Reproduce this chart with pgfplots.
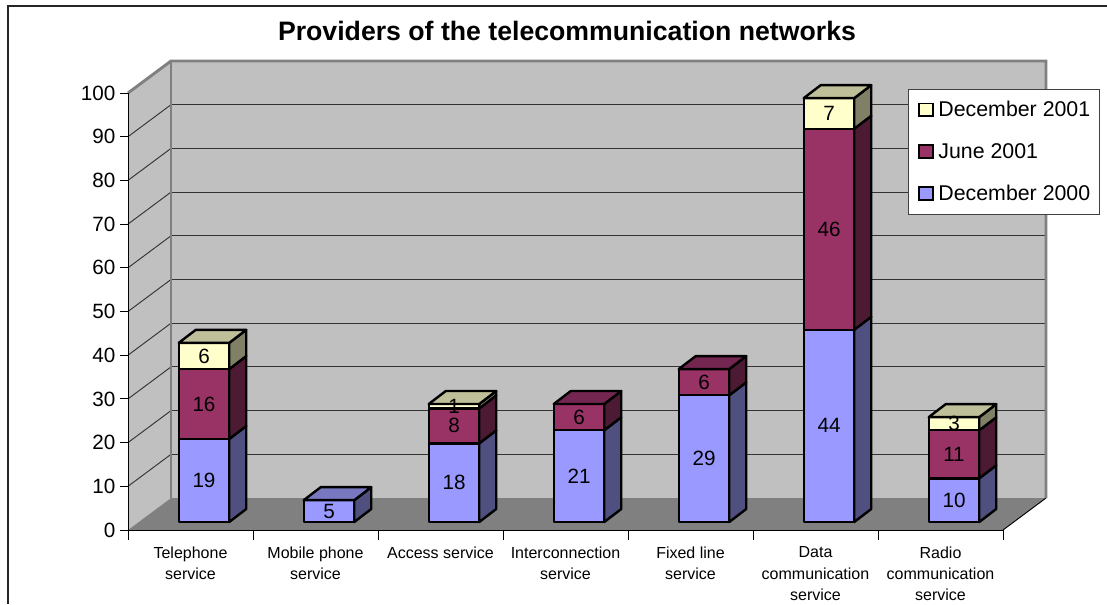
\documentclass[border=0pt]{standalone}
\usepackage{fontspec}
\setmainfont{Liberation Sans}
\usepackage{pgfplots}
\pgfplotsset{compat=1.18}

\definecolor{wallc}{HTML}{C0C0C0}
\definecolor{floorc}{HTML}{808080}
\definecolor{bluef}{HTML}{9999FF}
\definecolor{blues}{HTML}{4F4F80}
\definecolor{bluet}{HTML}{7878C0}
\definecolor{purpf}{HTML}{993366}
\definecolor{purps}{HTML}{4D1A33}
\definecolor{purpt}{HTML}{732650}
\definecolor{yellf}{HTML}{FFFFCC}
\definecolor{yells}{HTML}{808066}
\definecolor{yellt}{HTML}{BFBF99}

% one filled polygon through the axis
\newcommand{\face}[2]{%
  \edef\tmp{\noexpand\addplot[forget plot,no markers,sharp plot,draw=black,line width=1.8pt,line join=round,fill=#1] coordinates {#2} -- cycle;}\tmp}
% one straight line through the axis
\newcommand{\wline}[3]{%
  \edef\tmp{\noexpand\addplot[forget plot,no markers,sharp plot,#1,line width=#2] coordinates {#3};}\tmp}
% legend key, a small square
\newcommand{\lkey}[1]{%
  \addlegendimage{legend image code/.code={\path (-3pt,0pt) (12pt,0pt); \draw[draw=black,line width=1.4pt,fill=#1] (0pt,-4.5pt) rectangle (10pt,5pt);}}}

% bar geometry in axis units: 125 px per category, 4.37 px per unit of y
\newcommand{\seg}[5]{% category, bottom, value, front colour, side colour
  \pgfmathsetmacro\xa{#1+0.406}\pgfmathsetmacro\xb{#1+0.81}\pgfmathsetmacro\xc{#1+0.946}%
  \pgfmathsetmacro\ya{1.83+#2}\pgfmathsetmacro\yb{\ya+#3}%
  \pgfmathsetmacro\yc{\ya+2.97}\pgfmathsetmacro\yd{\yb+2.97}%
  \face{#4}{(\xa,\ya)(\xb,\ya)(\xb,\yb)(\xa,\yb)}%
  \face{#5}{(\xb,\ya)(\xc,\yc)(\xc,\yd)(\xb,\yb)}}
\newcommand{\lid}[3]{% category, top of stack, colour
  \pgfmathsetmacro\xa{#1+0.406}\pgfmathsetmacro\xb{#1+0.81}\pgfmathsetmacro\xc{#1+0.946}\pgfmathsetmacro\xd{#1+0.542}%
  \pgfmathsetmacro\yb{1.83+#2}\pgfmathsetmacro\yd{\yb+2.97}%
  \face{#3}{(\xa,\yb)(\xb,\yb)(\xc,\yd)(\xd,\yd)}}
\newcommand{\lab}[3]{% category, bottom, value
  \pgfmathsetmacro\xa{#1+0.608}\pgfmathsetmacro\ya{1.83+#2+#3/2}%
  \edef\tmp{\noexpand\addplot[forget plot,draw=none,no markers,nodes near coords,point meta=explicit symbolic,
    every node near coord/.style={anchor=center,inner sep=0pt,font=\noexpand\fontsize{15.5}{18}\noexpand\selectfont}]
    coordinates {(\xa,\ya) [#3]};}\tmp}

\begin{document}
\begin{tikzpicture}[x=0.75pt,y=0.75pt]
\path[use as bounding box] (0,0) rectangle (1107,604);
\draw[black!85,line width=1.1pt] (8,0) -- (8,598) -- (1107,598);
\begin{axis}[
    at={(96pt,55.5pt)},
    anchor=south west,
    scale only axis,
    width=656.25pt,
    height=327.75pt,
    xmin=0, xmax=7,
    ymin=0, ymax=100,
    clip=false,
    axis on top,
    axis x line=bottom,
    axis y line=left,
    axis line style={-,black,line width=0.7pt},
    tick align=outside,
    major tick length=6pt,
    minor tick length=7.5pt,
    ytick={0,10,...,100},
    xtick={0.5,1.5,2.5,3.5,4.5,5.5,6.5},
    minor xtick={0,1,2,3,4,5,6,7},
    major x tick style={draw=none},
    minor x tick style={black,line width=0.7pt},
    y tick style={black,line width=0.7pt},
    xticklabels={{Telephone\\service},{Mobile phone\\service},{Access service},{Interconnection\\service},{Fixed line\\service},{Data\\communication\\service},{Radio\\communication\\service}},
    xticklabel style={align=center,font=\fontsize{12}{16}\selectfont,yshift=-3pt},
    yticklabel style={font=\fontsize{15.5}{18}\selectfont},
    /pgf/number format/assume math mode=true,
    title={\textbf{Providers of the telecommunication networks}},
    title style={at={(axis description cs:0.5017,1.124)},anchor=center,inner sep=0pt,font=\fontsize{20}{24}\selectfont},
    legend style={at={(axis description cs:1.1109,1.0092)},anchor=north east,draw=black!75,line width=0.7pt,fill=white,
      font=\fontsize{16}{18}\selectfont,row sep=14.4pt,inner xsep=5pt,inner ysep=7pt},
    legend cell align=left,
]
\lkey{yellf}
\addlegendentry{December 2001}
\lkey{purpf}
\addlegendentry{June 2001}
\lkey{bluef}
\addlegendentry{December 2000}

% walls and floor
\addplot[forget plot,no markers,sharp plot,draw=none,fill=wallc] coordinates {(0,0)(0.344,7.32)(7.344,7.32)(7.344,107.32)(0.344,107.32)(0,100)} -- cycle;
\addplot[forget plot,no markers,sharp plot,draw=none,fill=floorc] coordinates {(0,0)(0.344,7.32)(7.344,7.32)(7,0)} -- cycle;
\wline{black}{0.7pt}{(7,0)(7.344,7.32)}

% gridlines on both walls
\pgfplotsinvokeforeach{10,20,30,40,50,60,70,80,90}{
  \pgfmathsetmacro\yg{#1+7.32}
  \wline{black!80}{0.7pt}{(0,#1)(0.344,\yg)}
  \wline{black!80}{0.7pt}{(0.344,\yg)(7.344,\yg)}
}
\wline{floorc}{2.2pt}{(0,100)(0.344,107.32)(7.344,107.32)(7.344,7.32)}
\wline{floorc}{2.2pt}{(0.344,107.32)(0.344,7.32)}

% Telephone
\seg{0}{0}{19}{bluef}{blues}\seg{0}{19}{16}{purpf}{purps}\seg{0}{35}{6}{yellf}{yells}\lid{0}{41}{yellt}
\lab{0}{0}{19}\lab{0}{19}{16}\lab{0}{35}{6}
% Mobile phone
\seg{1}{0}{5}{bluef}{blues}\lid{1}{5}{bluet}
\lab{1}{0}{5}
% Access
\seg{2}{0}{18}{bluef}{blues}\seg{2}{18}{8}{purpf}{purps}\seg{2}{26}{1}{yellf}{yells}\lid{2}{27}{yellt}
\lab{2}{0}{18}\lab{2}{18}{8}\lab{2}{26}{1}
% Interconnection
\seg{3}{0}{21}{bluef}{blues}\seg{3}{21}{6}{purpf}{purps}\lid{3}{27}{purpt}
\lab{3}{0}{21}\lab{3}{21}{6}
% Fixed line
\seg{4}{0}{29}{bluef}{blues}\seg{4}{29}{6}{purpf}{purps}\lid{4}{35}{purpt}
\lab{4}{0}{29}\lab{4}{29}{6}
% Data communication
\seg{5}{0}{44}{bluef}{blues}\seg{5}{44}{46}{purpf}{purps}\seg{5}{90}{7}{yellf}{yells}\lid{5}{97}{yellt}
\lab{5}{0}{44}\lab{5}{44}{46}\lab{5}{90}{7}
% Radio communication
\seg{6}{0}{10}{bluef}{blues}\seg{6}{10}{11}{purpf}{purps}\seg{6}{21}{3}{yellf}{yells}\lid{6}{24}{yellt}
\lab{6}{0}{10}\lab{6}{10}{11}\lab{6}{21}{3}
\end{axis}
\end{tikzpicture}
\end{document}
